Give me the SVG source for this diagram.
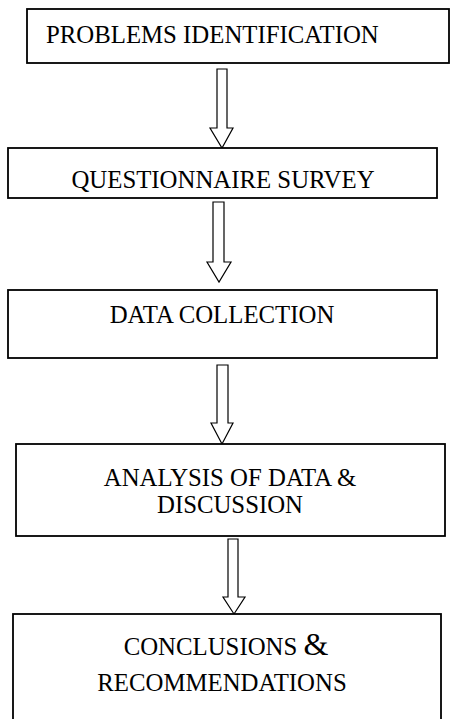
<svg xmlns="http://www.w3.org/2000/svg" width="450" height="719" viewBox="0 0 450 719">
<style>
.box{fill:#fff;stroke:#000;stroke-width:1.8}
.arr{fill:#fff;stroke:#000;stroke-width:1.2;stroke-linejoin:miter}
.t{font-family:"Liberation Serif","Times New Roman",serif;font-size:24.8px;fill:#000}
.c{text-anchor:middle}
</style>
<rect width="450" height="719" fill="#fff"/>
<g id="connectors">
<path class="arr" d="M217,69 L227,69 L227,128 L233,128 L222,148 L210,128 L217,128 Z"/>
<path class="arr" d="M213,202 L224,202 L224,262 L231,262 L219,282 L207,262 L213,262 Z"/>
<path class="arr" d="M217,365 L228,365 L228,423 L233,423 L222,444 L211,423 L217,423 Z"/>
<path class="arr" d="M228,539 L238,539 L238,597 L245,597 L234,614 L223,597 L228,597 Z"/>
</g>
<g id="node1">
<rect class="box" x="27" y="9" width="422" height="54"/>
<text class="t" x="46" y="43">PROBLEMS IDENTIFICATION</text>
</g>
<g id="node2">
<rect class="box" x="8" y="148" width="429" height="50"/>
<text class="t c" x="223" y="188">QUESTIONNAIRE SURVEY</text>
</g>
<g id="node3">
<rect class="box" x="8" y="290" width="429" height="68"/>
<text class="t c" x="222" y="323">DATA COLLECTION</text>
</g>
<g id="node4">
<rect class="box" x="16" y="444" width="429" height="92"/>
<text class="t c" x="230" y="486">ANALYSIS OF DATA &amp;</text>
<text class="t c" x="230" y="513">DISCUSSION</text>
</g>
<g id="node5">
<rect class="box" x="13" y="614" width="428" height="115"/>
<text class="t c" x="226" y="655">CONCLUSIONS <tspan font-size="32">&amp;</tspan></text>
<text class="t c" x="222" y="691">RECOMMENDATIONS</text>
</g>
</svg>
